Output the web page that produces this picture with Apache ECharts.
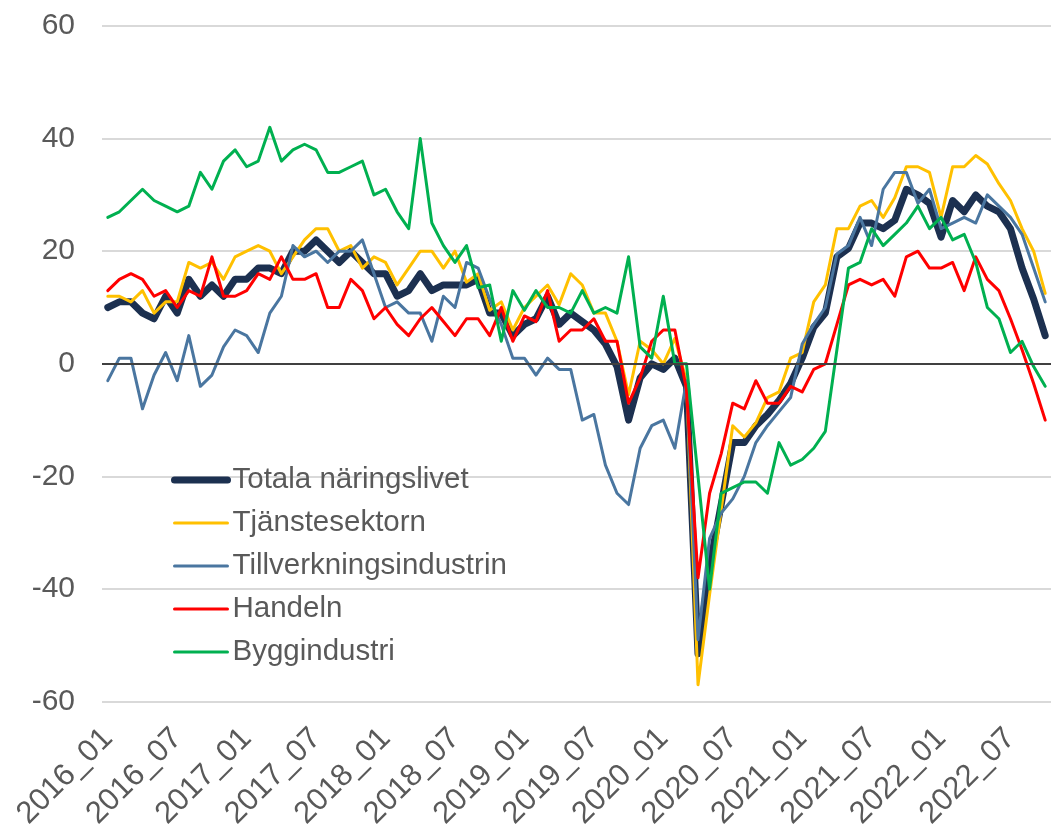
<!DOCTYPE html>
<html>
<head>
<meta charset="utf-8">
<script src="https://cdn.jsdelivr.net/npm/echarts@6/dist/echarts.min.js"></script>
<style>
  html, body { margin: 0; padding: 0; background: #fff; }
  #chart { width: 1051px; height: 832px; }
</style>
</head>
<body>
<div id="chart"></div>
<script>
// månader 2016_01 .. 2022_10
const months = []
for (let y = 2016; y <= 2022; y++) {
  for (let m = 1; m <= 12; m++) {
    if (y === 2022 && m > 10) break
    months.push(y + '_' + (m < 10 ? '0' + m : m))
  }
}

const totala = [10, 11, 11, 9, 8, 12, 9, 15, 12, 14,
  12, 15, 15, 17, 17, 16, 20, 20, 22, 20,
  18, 20, 18, 16, 16, 12, 13, 16, 13, 14,
  14, 14, 15, 9, 9, 5, 7, 8, 12, 7,
  9, 7.5, 6, 3.5, -0.5, -10, -2.5, 0, -1, 1,
  -4, -51.5, -36, -25, -14, -14, -11, -9, -6.5, -3.5,
  1, 6.5, 9, 19, 20.5, 25, 25, 24, 25.5, 31,
  30, 28.5, 22.5, 29, 27, 30, 28, 27, 24, 17,
  11.5, 5]

const tjanste = [12, 12, 11, 13, 9, 11, 11, 18, 17, 18,
  15, 19, 20, 21, 20, 16, 19, 22, 24, 24,
  20, 21, 17, 19, 18, 14, 17, 20, 20, 17,
  20, 14.5, 16, 9.5, 11, 6, 10, 12, 14, 10.5,
  16, 14, 9, 9, 4, -5.5, 4, 2.5, 0, 4.5,
  -3, -57, -41, -26, -11, -13, -10.5, -6, -5, 1,
  2, 11, 14, 24, 24, 28, 29, 26, 29.5, 35,
  35, 34, 26, 35, 35, 37, 35.5, 32, 29, 24,
  20, 12.5]

const tillverkning = [-3, 1, 1, -8, -2, 2, -3, 5, -4, -2,
  3, 6, 5, 2, 9, 12, 21, 19, 20, 18,
  20, 20, 22, 16, 10, 11, 9, 9, 4, 12,
  10, 18, 17, 11.5, 7, 1, 1, -2, 1, -1,
  -1, -10, -9, -18, -23, -25, -15, -11, -10, -15,
  -3, -49, -31, -26.5, -24, -20, -14, -11, -8.5, -6,
  3.5, 7, 10, 19.5, 21, 26, 21, 31, 34, 34,
  28.5, 31, 24, 25, 26, 25, 30, 28, 26, 23,
  17, 11]

const handeln = [13, 15, 16, 15, 12, 13, 10, 13, 12, 19,
  12, 12, 13, 16, 15, 19, 15, 15, 16, 10,
  10, 15, 13, 8, 10, 7, 5, 8, 10, 7.5,
  5, 8, 8, 5, 10, 4, 8.5, 7.5, 13, 4,
  6, 6, 8, 4, 4, -7, -2.5, 4, 6, 6,
  -4.5, -38, -23, -16, -7, -8, -3, -7, -7, -4,
  -5, -1, 0, 7, 14, 15, 14, 15, 12, 19,
  20, 17, 17, 18, 13, 19, 15, 13, 8, 2.5,
  -3.5, -10]

const bygg = [26, 27, 29, 31, 29, 28, 27, 28, 34, 31,
  36, 38, 35, 36, 42, 36, 38, 39, 38, 34,
  34, 35, 36, 30, 31, 27, 24, 40, 25, 21,
  18, 21, 13.5, 14, 4, 13, 9.5, 13, 10, 10,
  9, 13, 9, 10, 9, 19, 3, 1, 12, 0,
  0, -20, -40, -23, -22, -21, -21, -23, -14, -18,
  -17, -15, -12, 2.5, 17, 18, 24, 21, 23, 25,
  28, 24, 26, 22, 23, 18, 10, 8, 2, 4,
  -0.5, -4]

const names = ['Totala näringslivet', 'Tjänstesektorn', 'Tillverkningsindustrin', 'Handeln', 'Byggindustri']
const colors = ['#1c3050', '#ffc000', '#4a76a0', '#ff0000', '#00b050']
const widths = [7, 3, 3, 3, 3]
const values = [totala, tjanste, tillverkning, handeln, bygg]

const font = '"Liberation Sans", Arial, sans-serif'
const chart = echarts.init(document.getElementById('chart'))

chart.setOption({
  animation: false,
  backgroundColor: '#fff',
  grid: { left: 102, right: -6.5, top: 26, bottom: 129 },
  legend: {
    orient: 'vertical',
    left: 171,
    top: 465,
    padding: 0,
    itemWidth: 53,
    itemHeight: 14,
    itemGap: 13,
    itemStyle: { opacity: 0 },
    textStyle: { fontFamily: font, fontSize: 29.5, color: '#595959', lineHeight: 30 },
    data: names.map((n, i) => ({
      name: n,
      lineStyle: { width: widths[i], cap: 'round' }
    }))
  },
  xAxis: {
    type: 'category',
    data: months,
    boundaryGap: true,
    axisLine: { show: false },
    axisTick: { show: false },
    axisLabel: {
      interval: 5,
      rotate: 45,
      margin: 32,
      fontFamily: font,
      fontSize: 31,
      color: '#595959'
    }
  },
  yAxis: {
    type: 'value',
    min: -60,
    max: 60,
    interval: 20,
    axisLine: { show: false },
    axisTick: { show: false },
    axisLabel: { margin: 27, fontFamily: font, fontSize: 30, color: '#595959' },
    splitLine: { lineStyle: { color: '#d9d9d9', width: 2 } }
  },
  series: values.map((v, i) => ({
    name: names[i],
    type: 'line',
    data: v,
    symbol: 'none',
    color: colors[i],
    lineStyle: { width: widths[i], color: colors[i], cap: 'round', join: 'round' },
    markLine: i === 0 ? {
      silent: true,
      symbol: 'none',
      label: { show: false },
      lineStyle: { color: '#404040', width: 2, type: 'solid' },
      data: [{ yAxis: 0 }]
    } : undefined
  }))
})
</script>
</body>
</html>
